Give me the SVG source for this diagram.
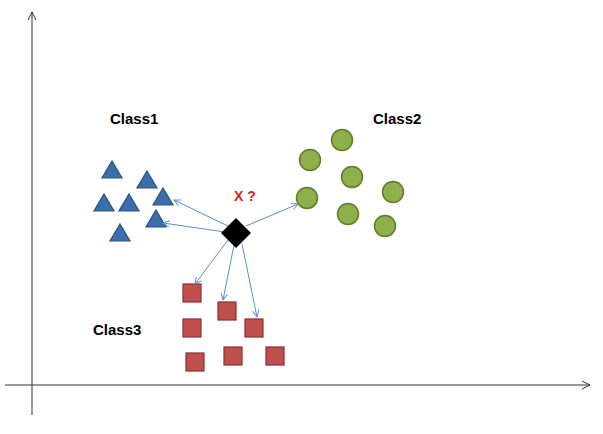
<svg xmlns="http://www.w3.org/2000/svg" width="603" height="434" viewBox="0 0 603 434">
<style>
.lbl{font-family:"Liberation Sans",Arial,sans-serif;font-weight:bold;font-size:15px;fill:#000}
.tri{fill:#3c6eaa;stroke:#2a5285;stroke-width:1.2}
.cir{fill:#8db04a;stroke:#5e7d2a;stroke-width:1.5}
.sq{fill:#c0504d;stroke:#8c3030;stroke-width:1.2}
.arr{stroke:#5b8fd0;stroke-width:1;fill:none;marker-end:url(#ah)}
.ax{stroke:#333;stroke-width:1;fill:none;marker-end:url(#axh)}
</style>
<defs>
<marker id="ah" viewBox="0 0 10 10" refX="9" refY="5" markerWidth="8" markerHeight="8" orient="auto"><path d="M1,1 L9,5 L1,9" fill="none" stroke="#5b8fd0" stroke-width="1.2"/></marker>
<marker id="axh" viewBox="0 0 10 10" refX="9" refY="5" markerWidth="10" markerHeight="10" orient="auto"><path d="M1,1 L9,5 L1,9" fill="none" stroke="#333" stroke-width="1"/></marker>
<path id="t" d="M0,-9 L10,8 L-10,8 Z"/>
</defs>
<g id="axes">
<line class="ax" x1="32" y1="415" x2="32" y2="12"/>
<line class="ax" x1="5" y1="385" x2="590" y2="385"/>
</g>
<g id="class1">
<use href="#t" class="tri" x="112" y="170"/>
<use href="#t" class="tri" x="147" y="180"/>
<use href="#t" class="tri" x="104" y="203"/>
<use href="#t" class="tri" x="129" y="203"/>
<use href="#t" class="tri" x="163" y="197"/>
<use href="#t" class="tri" x="156" y="219"/>
<use href="#t" class="tri" x="120" y="233"/>
<text class="lbl" x="110" y="124">Class1</text>
</g>
<g id="class2">
<circle class="cir" cx="342" cy="140" r="10.5"/>
<circle class="cir" cx="310" cy="160" r="10.5"/>
<circle class="cir" cx="352" cy="177" r="10.5"/>
<circle class="cir" cx="393" cy="192" r="10.5"/>
<circle class="cir" cx="307" cy="198" r="10.5"/>
<circle class="cir" cx="348" cy="214" r="10.5"/>
<circle class="cir" cx="385" cy="226" r="10.5"/>
<text class="lbl" x="373" y="124">Class2</text>
</g>
<g id="class3">
<rect class="sq" x="183" y="284" width="18" height="18"/>
<rect class="sq" x="218" y="302" width="18" height="18"/>
<rect class="sq" x="183" y="319" width="18" height="18"/>
<rect class="sq" x="245" y="319" width="18" height="18"/>
<rect class="sq" x="186" y="353" width="18" height="18"/>
<rect class="sq" x="224" y="347" width="18" height="18"/>
<rect class="sq" x="266" y="347" width="18" height="18"/>
<text class="lbl" x="93" y="335">Class3</text>
</g>
<g id="connectors">
<line class="arr" x1="230" y1="227" x2="174" y2="200"/>
<line class="arr" x1="225" y1="232" x2="163" y2="223"/>
<line class="arr" x1="246" y1="226" x2="298" y2="204"/>
<line class="arr" x1="228" y1="240" x2="195" y2="284"/>
<line class="arr" x1="234" y1="245" x2="223" y2="300"/>
<line class="arr" x1="242" y1="244" x2="257" y2="317"/>
</g>
<g id="query">
<path d="M236,218 L251,233 L236,248 L221,233 Z" fill="#000"/>
<text x="234" y="201" font-family="Liberation Sans,Arial,sans-serif" font-weight="bold" font-size="14" fill="#e02020">X ?</text>
</g>
</svg>
